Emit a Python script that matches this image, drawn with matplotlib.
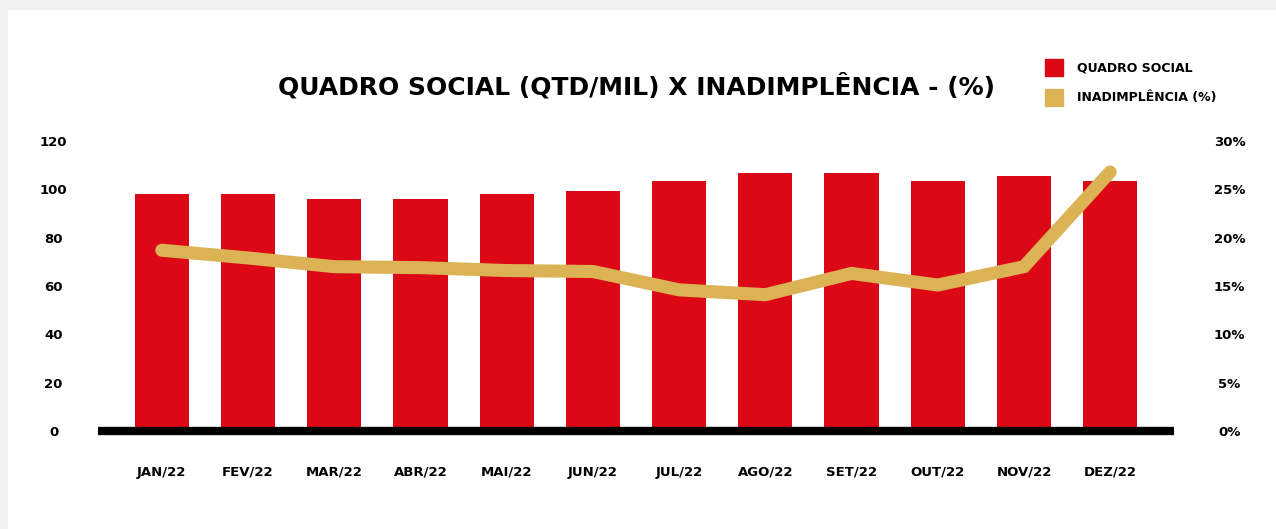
import matplotlib.pyplot as plt
from matplotlib.patches import Rectangle, Patch

meses = ['JAN/22', 'FEV/22', 'MAR/22', 'ABR/22', 'MAI/22', 'JUN/22',
         'JUL/22', 'AGO/22', 'SET/22', 'OUT/22', 'NOV/22', 'DEZ/22']
quadro_social = [98, 98, 96, 96, 98, 99.3, 103.4, 106.7, 106.7, 103.4, 105.5, 103.4]
inadimplencia = [18.7, 17.9, 17.0, 16.9, 16.6, 16.5, 14.6, 14.1, 16.3, 15.1, 17.0, 26.8]

left_ticks = [0, 20, 40, 60, 80, 100, 120]
right_ticks = [0, 5, 10, 15, 20, 25, 30]

vermelho = '#DC0816'
dourado = '#DBB355'
W, H = 1276, 529

fig = plt.figure(figsize=(W / 100, H / 100), dpi=100)
fig.patch.set_facecolor('#F0F0F0')
fig.patches.append(Rectangle((8 / W, 0), 1, 1 - 10 / H, transform=fig.transFigure,
                             facecolor='white', edgecolor='none', zorder=-10))

ax = fig.add_axes([98 / W, (H - 431) / H, 1076 / W, 290 / H])
ax.set_facecolor('none')
x = range(len(meses))
ax.bar(x, quadro_social, width=0.63, color=vermelho, zorder=2)
ax.set_xlim(-0.74, 11.74)
ax.set_ylim(0, 120)
ax.set_yticks(left_ticks)
ax.set_xticks(list(x))
ax.set_xticklabels(meses)
for s in ['top', 'left', 'right']:
    ax.spines[s].set_visible(False)
ax.spines['bottom'].set_linewidth(6)
ax.spines['bottom'].set_color('black')
ax.spines['bottom'].set_capstyle('butt')
ax.spines['bottom'].set_zorder(5)
ax.tick_params(axis='y', length=0, pad=32, labelsize=9.5)
ax.tick_params(axis='x', length=0, pad=25, labelsize=9.5)
for t in ax.get_yticklabels():
    t.set_fontweight('bold')
    t.set_horizontalalignment('center')
for t in ax.get_xticklabels():
    t.set_fontweight('bold')

ax2 = ax.twinx()
ax2.plot(list(x), inadimplencia, color=dourado, linewidth=9.4,
         solid_capstyle='round', solid_joinstyle='miter', zorder=3)
ax2.set_ylim(0, 30)
ax2.set_yticks(right_ticks)
ax2.set_yticklabels([f'{v}%' for v in right_ticks])
for s in ['top', 'left', 'right', 'bottom']:
    ax2.spines[s].set_visible(False)
ax2.tick_params(axis='y', length=0, pad=40, labelsize=9.5)
for t in ax2.get_yticklabels():
    t.set_fontweight('bold')
    t.set_horizontalalignment('center')

fig.text(636 / W, 1 - 86 / H, 'QUADRO SOCIAL (QTD/MIL) X INADIMPLÊNCIA - (%)',
         ha='center', va='center', fontsize=18, fontweight='bold')

handles = [Patch(color=vermelho), Patch(color=dourado)]
fig.legend(handles, ['QUADRO SOCIAL', 'INADIMPLÊNCIA (%)'], loc='upper left',
           bbox_to_anchor=(1039 / W, 1 - 53 / H), frameon=False, borderpad=0,
           handlelength=1.44, handleheight=1.7, handletextpad=1.1,
           labelspacing=1.0, prop={'weight': 'bold', 'size': 9})

fig.savefig('out.png', dpi=100, facecolor=fig.get_facecolor())
